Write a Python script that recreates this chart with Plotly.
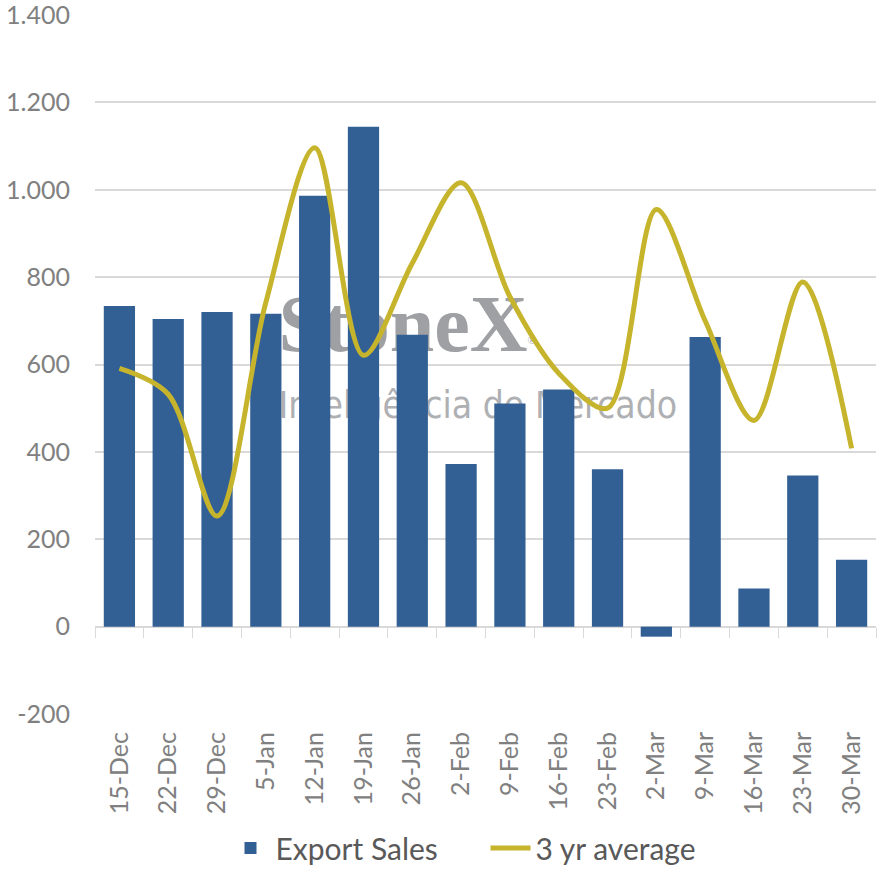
import plotly.graph_objects as go

categories = ["15-Dec", "22-Dec", "29-Dec", "5-Jan", "12-Jan", "19-Jan", "26-Jan", "2-Feb",
              "9-Feb", "16-Feb", "23-Feb", "2-Mar", "9-Mar", "16-Mar", "23-Mar", "30-Mar"]
export_sales = [734, 704, 720, 716, 986, 1144, 668, 372, 511, 543, 360, -23, 663, 87, 346, 153]
avg_3yr = [591, 532, 253, 742, 1096, 621, 832, 1016, 755, 580, 500, 955, 700, 472, 789, 408]
y_tickvals = [-200, 0, 200, 400, 600, 800, 1000, 1200, 1400]
y_ticktext = ["-200", "0", "200", "400", "600", "800", "1.000", "1.200", "1.400"]

BAR = "#325F94"
LINE = "#C6B42C"
GRID = "#D9D9D9"
FONT = "Lato, 'Open Sans', sans-serif"

fig = go.Figure()

# watermark on base subplot (drawn beneath the data subplots)
fig.add_trace(go.Scatter(
    x=[0.235], y=[0.548], mode="text",
    text=["<b>StoneX</b><span style='font-size:16px'><sup>®</sup></span>"],
    textposition="middle right", xaxis="x", yaxis="y",
    textfont=dict(family="'Liberation Serif', 'DejaVu Serif', serif", size=80, color="#9EA0A4"),
    showlegend=False, hoverinfo="skip"))
fig.add_trace(go.Scatter(
    x=[0.235], y=[0.437], mode="text", text=["Inteligência de Mercado"],
    textposition="middle right", xaxis="x", yaxis="y",
    textfont=dict(family="'DejaVu Sans Condensed', 'Liberation Sans', sans-serif", size=37, color="#AEB0B3"),
    showlegend=False, hoverinfo="skip"))

fig.add_trace(go.Bar(x=categories, y=export_sales, name="Export Sales",
                     marker=dict(color=BAR, line=dict(width=0)),
                     xaxis="x2", yaxis="y2"))
fig.add_trace(go.Scatter(x=categories, y=avg_3yr, name="3 yr average", mode="lines",
                         line=dict(color=LINE, width=5, shape="spline", smoothing=0.9),
                         xaxis="x2", yaxis="y2"))
# invisible helper carrying the category tick marks on the zero line
fig.add_trace(go.Scatter(x=categories, y=[0] * len(categories), mode="markers",
                         marker=dict(opacity=0), xaxis="x3", yaxis="y2",
                         showlegend=False, hoverinfo="skip"))

fig.update_layout(
    width=886, height=886,
    margin=dict(l=95, r=10, t=15, b=172, autoexpand=False),
    paper_bgcolor="white", plot_bgcolor="white",
    bargap=0.36,
    font=dict(family=FONT, color="#808080"),
    xaxis=dict(range=[0, 1], visible=False, fixedrange=True, automargin=False),
    yaxis=dict(range=[0, 1], visible=False, fixedrange=True, automargin=False),
    xaxis2=dict(overlaying="x", anchor="y2", type="category", categoryarray=categories,
                range=[-0.5, len(categories) - 0.5], tickangle=-90, showgrid=False,
                showline=False, ticks="", ticklabelstandoff=12, automargin=False,
                ticklabeloverflow="allow",
                tickfont=dict(size=25, color="#808080")),
    xaxis3=dict(overlaying="x", anchor="free", position=0.125, type="category",
                categoryarray=categories, range=[-0.5, len(categories) - 0.5],
                showticklabels=False, showgrid=False, showline=False, automargin=False,
                ticks="outside", ticklen=10, tickwidth=1, tickcolor=GRID, tickson="boundaries"),
    yaxis2=dict(overlaying="y", anchor="x2", range=[-200, 1400], tickvals=y_tickvals,
                ticktext=y_ticktext, showgrid=True, gridcolor=GRID, gridwidth=1.5,
                zeroline=True, zerolinecolor=GRID, zerolinewidth=1.5, showline=False,
                automargin=False, ticklabeloverflow="allow",
                ticks="", ticklabelstandoff=24, tickfont=dict(size=25, color="#808080")),
    legend=dict(orientation="h", x=0.5, xanchor="center", y=0.043, yref="container",
                yanchor="middle", font=dict(size=30, color="#595959"),
                itemwidth=40, traceorder="normal", entrywidth=205, entrywidthmode="pixels"),
    showlegend=True,
)

fig.write_html("out.html", config={"displayModeBar": False},
               post_script="document.body.style.margin='0';document.body.style.overflow='hidden';")
